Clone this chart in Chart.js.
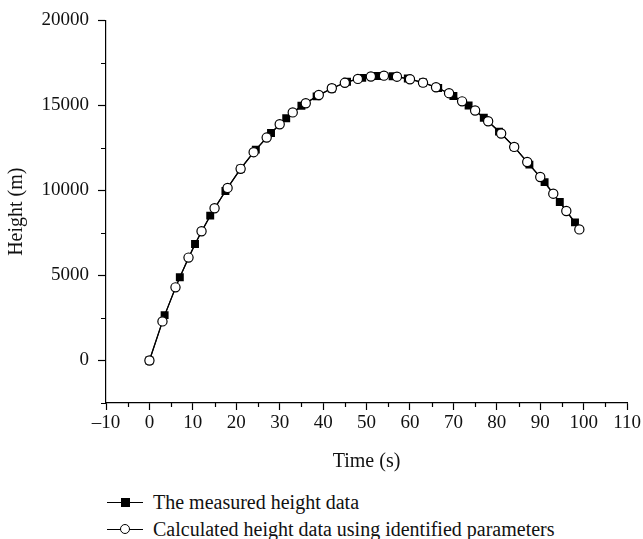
<!DOCTYPE html>
<html lang="en">
  <head>
    <meta charset="UTF-8" />
    <title>Height vs time</title>
    <style>
      body { margin: 0; background: #fff; font-family: "Liberation Serif", serif; overflow: hidden; }
      #wrap { position: relative; width: 643px; height: 480px; }
      .legend { position: absolute; left: 107px; top: 489px; font-size: 20px; color: #111; }
      .legend div { height: 26.5px; line-height: 26px; display: flex; align-items: center; }
      .mark { position: relative; width: 36px; height: 26px; margin-right: 10px; }
      .mark .ln { position: absolute; left: 0; right: 0; top: 13px; border-top: 1.2px solid #000; }
      .mark .sq { position: absolute; left: 14px; top: 9px; width: 9px; height: 9px; background: #000; }
      .mark .ci { position: absolute; left: 13px; top: 8px; width: 8px; height: 8px; background: #fff; border: 1.2px solid #000; border-radius: 50%; }
    </style>
  </head>
  <body>
    <div id="wrap"><canvas id="myChart"></canvas></div>
    <div class="legend" id="legend"></div>

    <script src="https://cdn.jsdelivr.net/npm/chart.js@4/dist/chart.umd.min.js"></script>
    <script>
      // measured heights, every 3.5 s
      var measuredTime = [0, 3.5, 7, 10.5, 14, 17.5, 21, 24.5, 28, 31.5, 35, 38.5, 42, 45.5, 49,
        52.5, 56, 59.5, 63, 66.5, 70, 73.5, 77, 80.5, 84, 87.5, 91, 94.5, 98];
      var measuredHeight = [0, 2670, 4900, 6850, 8520, 9970, 11280, 12400, 13380, 14250, 14980,
        15530, 16000, 16390, 16620, 16730, 16720, 16580, 16350, 16020, 15550, 15000, 14280,
        13460, 12560, 11520, 10490, 9320, 8120];

      // calculated heights, every 3 s
      var calcTime = [0, 3, 6, 9, 12, 15, 18, 21, 24, 27, 30, 33, 36, 39, 42, 45, 48, 51, 54,
        57, 60, 63, 66, 69, 72, 75, 78, 81, 84, 87, 90, 93, 96, 99];
      var calcHeight = [0, 2300, 4300, 6050, 7600, 8950, 10150, 11270, 12250, 13110, 13890,
        14590, 15130, 15610, 16010, 16330, 16560, 16700, 16750, 16690, 16540, 16340, 16070,
        15720, 15240, 14700, 14070, 13350, 12560, 11670, 10790, 9810, 8790, 7710];

      var seriesLabels = ["The measured height data", "Calculated height data using identified parameters"];
      var xTickLabelStep = 10;
      var yTickLabelStep = 5000;

      function toPoints(xs, ys) {
        return xs.map(function (x, i) { return { x: x, y: ys[i] }; });
      }

      var tickFont = { family: "Liberation Serif", size: 19 };
      var titleFont = { family: "Liberation Serif", size: 20 };

      // shorter ticks for the unlabeled (minor) positions
      var minorTicks = {
        id: "minorTicks",
        afterDatasetsDraw: function (chart) {
          var ctx = chart.ctx;
          var xs = chart.scales.x, ys = chart.scales.y;
          ctx.save();
          ctx.strokeStyle = "#000";
          ctx.lineWidth = 1.2;
          ctx.beginPath();
          xs.ticks.forEach(function (t) {
            if (t.value % xTickLabelStep !== 0) {
              var px = Math.round(xs.getPixelForValue(t.value)) + 0.5;
              ctx.moveTo(px, xs.top);
              ctx.lineTo(px, xs.top + 4);
            }
          });
          ys.ticks.forEach(function (t) {
            if (t.value % yTickLabelStep !== 0) {
              var py = Math.round(ys.getPixelForValue(t.value)) + 0.5;
              ctx.moveTo(ys.right, py);
              ctx.lineTo(ys.right - 5, py);
            }
          });
          ctx.stroke();
          ctx.restore();
        }
      };

      function majorColor(step) {
        return function (c) {
          return c.tick && c.tick.value % step === 0 ? "#000" : "rgba(0,0,0,0)";
        };
      }

      var ctx = document.getElementById("myChart").getContext("2d");
      var myChart = new Chart(ctx, {
        type: "line",
        data: {
          datasets: [
            {
              label: seriesLabels[0],
              data: toPoints(measuredTime, measuredHeight),
              borderColor: "#000",
              borderWidth: 1.2,
              pointStyle: "rect",
              pointRadius: 5.6,
              pointBackgroundColor: "#000",
              pointBorderColor: "#000",
              pointBorderWidth: 0,
              order: 1
            },
            {
              label: seriesLabels[1],
              data: toPoints(calcTime, calcHeight),
              borderColor: "#000",
              borderWidth: 1.2,
              pointStyle: "circle",
              pointRadius: 4.6,
              pointBackgroundColor: "#fff",
              pointBorderColor: "#000",
              pointBorderWidth: 1.2,
              order: 0
            }
          ]
        },
        options: {
          responsive: true,
          maintainAspectRatio: false,
          animation: false,
          layout: { padding: { top: 18, right: 15, left: 0, bottom: 0 } },
          plugins: {
            legend: { display: false },
            tooltip: { enabled: false }
          },
          scales: {
            x: {
              type: "linear",
              min: -10,
              max: 110,
              border: { color: "#000", width: 1.2 },
              grid: { drawOnChartArea: false, tickLength: 7, tickColor: majorColor(xTickLabelStep), tickWidth: 1.2 },
              ticks: {
                stepSize: 5,
                color: "#111",
                font: tickFont,
                padding: 2,
                maxRotation: 0,
                autoSkip: false,
                callback: function (v) {
                  if (v % xTickLabelStep !== 0) return "";
                  return v < 0 ? "\u2013" + Math.abs(v) : String(v);
                }
              },
              title: { display: true, text: "Time (s)", color: "#111", font: titleFont, padding: { top: 0, bottom: 6 } },
              afterFit: function (s) { s.height = 77; }
            },
            y: {
              min: -2500,
              max: 20000,
              border: { color: "#000", width: 1.2 },
              grid: { drawOnChartArea: false, tickLength: 8, tickColor: majorColor(yTickLabelStep), tickWidth: 1.2 },
              ticks: {
                stepSize: 2500,
                color: "#111",
                font: tickFont,
                padding: 9,
                autoSkip: false,
                callback: function (v) { return v % yTickLabelStep === 0 ? String(v) : ""; }
              },
              title: { display: true, text: "Height (m)", color: "#111", font: titleFont, padding: { top: 5, bottom: 0 } },
              afterFit: function (s) { s.width = 106; }
            }
          }
        },
        plugins: [minorTicks]
      });

      // legend below the chart: line with marker, then label
      var legend = document.getElementById("legend");
      var markClass = ["sq", "ci"];
      seriesLabels.forEach(function (txt, i) {
        var row = document.createElement("div");
        row.innerHTML = '<span class="mark"><span class="ln"></span><span class="' + markClass[i] + '"></span></span>';
        row.appendChild(document.createTextNode(txt));
        legend.appendChild(row);
      });
    </script>
  </body>
</html>
